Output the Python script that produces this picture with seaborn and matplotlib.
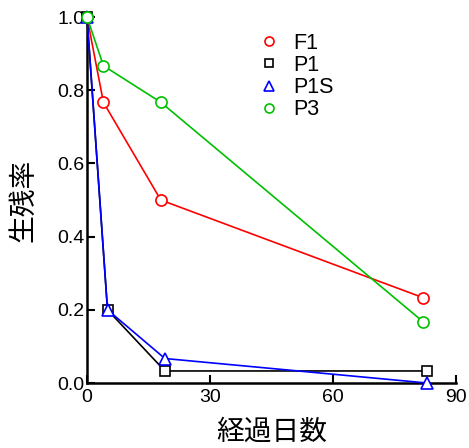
"""Survival rate over elapsed days for four lines."""
import matplotlib
matplotlib.use("Agg")
import matplotlib.pyplot as plt
from matplotlib.lines import Line2D
import seaborn as sns
import pandas as pd

# data
series_names = ["F1", "P1", "P1S", "P3"]
f1_days = [0, 4, 18, 82]
f1_rate = [1.0, 0.767, 0.5, 0.233]
p1_days = [0, 5, 19, 83]
p1_rate = [1.0, 0.2, 0.033, 0.033]
p1s_days = [0, 5, 19, 83]
p1s_rate = [1.0, 0.2, 0.067, 0.0]
p3_days = [0, 4, 18, 82]
p3_rate = [1.0, 0.867, 0.767, 0.167]
x_ticks = [0, 30, 60, 90]
y_ticks = [0.0, 0.2, 0.4, 0.6, 0.8, 1.0]

sns.set_theme(style="white")
plt.rcParams['font.family'] = ['Liberation Sans', 'Noto Sans CJK JP', 'DejaVu Sans']
plt.rcParams['text.color'] = 'black'
plt.rcParams['axes.labelcolor'] = 'black'

frames = []
for name, d, r in [("F1", f1_days, f1_rate), ("P1", p1_days, p1_rate),
                   ("P1S", p1s_days, p1s_rate), ("P3", p3_days, p3_rate)]:
    frames.append(pd.DataFrame({"days": d, "rate": r, "line": name}))
df = pd.concat(frames, ignore_index=True)

colors = {"F1": "#ff0000", "P1": "#000000", "P1S": "#0000ff", "P3": "#00c000"}
markers = {"F1": "o", "P1": "s", "P1S": "^", "P3": "o"}
sizes = {"F1": 8, "P1": 7, "P1S": 9, "P3": 8}

fig = plt.figure(figsize=(4.69, 4.48), dpi=100)
ax = fig.add_axes([0.1855, 0.145, 0.787, 0.817])

# green ends up on top, as in the reference
for name in series_names:
    sub = df[df["line"] == name]
    sns.lineplot(data=sub, x="days", y="rate", ax=ax, color=colors[name],
                 marker=markers[name], markersize=sizes[name],
                 markerfacecolor="white", markeredgecolor=colors[name],
                 markeredgewidth=1.2, linewidth=1.2, legend=False,
                 clip_on=False, zorder=3)

ax.set_xlim(0, 90)
ax.set_ylim(0, 1.0)
ax.set_xticks(x_ticks)
ax.set_yticks(y_ticks)
ax.set_xticklabels([str(t) for t in x_ticks])
ax.set_yticklabels([f"{t:.1f}" for t in y_ticks])
ax.tick_params(direction="in", length=6, width=1.5, labelsize=14, pad=2,
               colors="black", bottom=True, left=True)
ax.tick_params(axis="x", pad=4)

for side in ["top", "right"]:
    ax.spines[side].set_visible(False)
for side in ["left", "bottom"]:
    ax.spines[side].set_linewidth(1.8)
    ax.spines[side].set_color("black")

ax.set_xlabel("経過日数", fontsize=20, labelpad=10)
ax.set_ylabel("生残率", fontsize=20, labelpad=14)

handles = [Line2D([], [], linestyle="none", marker=markers[n], markersize=sizes[n] - 1.5,
                  markerfacecolor="white", markeredgecolor=colors[n],
                  markeredgewidth=1.2) for n in series_names]
ax.legend(handles, series_names, loc="upper left", bbox_to_anchor=(0.44, 0.98),
          frameon=False, fontsize=15.5, handlelength=1.0, handletextpad=0.65,
          labelspacing=0.05, borderaxespad=0, labelcolor="black")

fig.savefig("out.png", dpi=100)
